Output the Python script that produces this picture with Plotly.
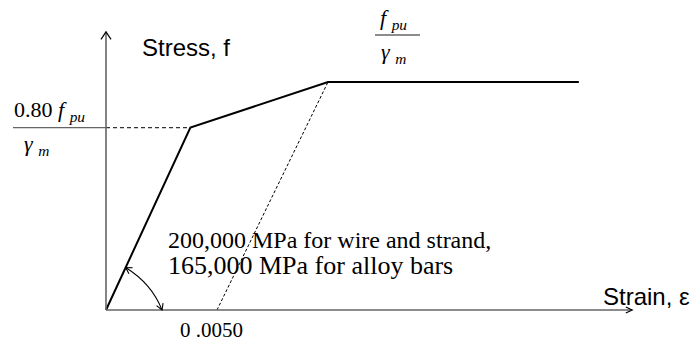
import math
import plotly.graph_objects as go

# Idealised stress-strain curve for prestressing steel (stress in units of f_pu / gamma_m)
strain = [0.0, 0.0038, 0.0100, 0.0213]
stress = [0.0, 0.80, 1.00, 1.00]
offset_strain = 0.0050          # foot of the offset line on the strain axis
strain_axis_max = 0.0237
stress_axis_max = 1.22

W, H = 700, 345
ORIGIN = (106, 310)             # pixel position of (0, 0)
PX_PER_STRAIN = 22200
PX_PER_STRESS = 228


def to_data(xp, yp):
    return ((xp - ORIGIN[0]) / PX_PER_STRAIN, (ORIGIN[1] - yp) / PX_PER_STRESS)


def to_px(s, f):
    return (ORIGIN[0] + s * PX_PER_STRAIN, ORIGIN[1] - f * PX_PER_STRESS)


def chevron(tip_px, direction, length=7.0, half_angle=32):
    """Open arrow head (two short strokes) ending at tip_px, pointing along direction."""
    dx, dy = direction
    n = math.hypot(dx, dy)
    dx, dy = dx / n, dy / n
    a = math.radians(half_angle)
    pts = []
    for sgn in (1, -1):
        ca, sa = math.cos(sgn * a), math.sin(sgn * a)
        rx = dx * ca - dy * sa
        ry = dx * sa + dy * ca
        pts.append((tip_px[0] - rx * length, tip_px[1] - ry * length))
    p1 = to_data(*pts[0])
    t = to_data(*tip_px)
    p2 = to_data(*pts[1])
    return f"M{p1[0]},{p1[1]} L{t[0]},{t[1]} L{p2[0]},{p2[1]}"


AXIS = "#666666"
SERIF = "Liberation Serif, Times New Roman, serif"
SANS = "Liberation Sans, Arial, sans-serif"

fig = go.Figure()

# main bilinear curve + plateau
fig.add_trace(go.Scatter(x=strain, y=stress, mode="lines",
                         line=dict(color="black", width=2), hoverinfo="skip"))
# offset line from 0.0050 strain up to the plateau
fig.add_trace(go.Scatter(x=[offset_strain, strain[2]], y=[0, stress[2]], mode="lines",
                         line=dict(color="black", width=1, dash="3px,2px"), hoverinfo="skip"))
# projection of the knee on the stress axis
fig.add_trace(go.Scatter(x=[0, strain[1]], y=[stress[1], stress[1]], mode="lines",
                         line=dict(color="#333333", width=1.2, dash="4px,3px"), hoverinfo="skip"))

shapes = []
# axes
shapes.append(dict(type="line", xref="x", yref="y", x0=0, y0=0, x1=0, y1=stress_axis_max,
                   line=dict(color=AXIS, width=1.6)))
shapes.append(dict(type="line", xref="x", yref="y", x0=0, y0=0, x1=strain_axis_max, y1=0,
                   line=dict(color=AXIS, width=1.6)))
ytip = to_px(0, stress_axis_max)
xtip = to_px(strain_axis_max, 0)
shapes.append(dict(type="path", xref="x", yref="y", path=chevron(ytip, (0, -1), 9, 34),
                   line=dict(color="black", width=1.2)))
shapes.append(dict(type="path", xref="x", yref="y", path=chevron(xtip, (1, 0), 7, 25),
                   line=dict(color="black", width=1.2)))

# fraction bar of the 0.80 f_pu / gamma_m label
bar_l = to_data(13, 0)[0]
shapes.append(dict(type="line", xref="x", yref="y", x0=bar_l, y0=stress[1], x1=0, y1=stress[1],
                   line=dict(color=AXIS, width=1.4)))
# fraction bar of the f_pu / gamma_m label
tb0 = to_data(375, 35)
tb1 = to_data(420, 35)
shapes.append(dict(type="line", xref="x", yref="y", x0=tb0[0], y0=tb0[1], x1=tb1[0], y1=tb1[1],
                   line=dict(color=AXIS, width=1.4)))

# modulus arc between elastic branch and strain axis
frac = 0.233
p0 = to_px(frac * strain[1], frac * stress[1])
p2 = (162, ORIGIN[1])
c = (152, 284)
d0, dc, d2 = to_data(*p0), to_data(*c), to_data(*p2)
shapes.append(dict(type="path", xref="x", yref="y",
                   path=f"M{d0[0]},{d0[1]} Q{dc[0]},{dc[1]} {d2[0]},{d2[1]}",
                   line=dict(color="black", width=1.1)))
shapes.append(dict(type="path", xref="x", yref="y",
                   path=chevron(p0, (p0[0] - c[0], p0[1] - c[1]), 7, 30),
                   line=dict(color="black", width=1.1)))
shapes.append(dict(type="path", xref="x", yref="y",
                   path=chevron(p2, (p2[0] - c[0], p2[1] - c[1]), 7, 30),
                   line=dict(color="black", width=1.1)))


def note(text, xp, yp, size, family, xanchor="left", yanchor="middle"):
    x, y = to_data(xp, yp)
    return dict(text=text, x=x, y=y, xref="x", yref="y", showarrow=False,
                xanchor=xanchor, yanchor=yanchor,
                font=dict(size=size, family=family, color="black"))


knee_py = to_px(0, stress[1])[1]
annotations = [
    note("Stress, f", 140, 47, 24, SANS),
    note("Strain, ε", 601, 296, 24, SANS),
    note("200,000 MPa for wire and strand,", 166, 240, 24, SERIF),
    note("165,000 MPa for alloy bars", 166, 265, 26, SERIF),
    note("0 .0050", 211, 344, 21, SERIF, xanchor="center", yanchor="bottom"),
    note("0.80 <i>f</i> <sub><i>pu</i></sub>", 12, knee_py - 1, 22, SERIF, yanchor="bottom"),
    note("<i>γ</i> <sub><i>m</i></sub>", 22, knee_py + 1, 22, SERIF, yanchor="top"),
    note("<i>f</i> <sub><i>pu</i></sub>", 393, 35, 22, SERIF, xanchor="center", yanchor="bottom"),
    note("<i>γ</i> <sub><i>m</i></sub>", 393, 37, 22, SERIF, xanchor="center", yanchor="top"),
]

x_lo, y_hi = to_data(0, 0)
x_hi, y_lo = to_data(W, H)
fig.update_layout(
    width=W, height=H,
    margin=dict(l=0, r=0, t=0, b=0),
    paper_bgcolor="white", plot_bgcolor="white",
    showlegend=False,
    xaxis=dict(range=[x_lo, x_hi], visible=False, fixedrange=True),
    yaxis=dict(range=[y_lo, y_hi], visible=False, fixedrange=True),
    shapes=shapes,
    annotations=annotations,
)

fig.write_html("out.html")
